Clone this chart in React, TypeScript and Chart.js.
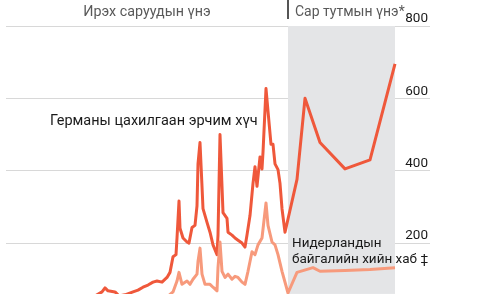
import React, { useEffect, useRef } from "react";
import { Chart, registerables } from "chart.js";

Chart.register(...registerables);

// Horizontal position of each observation (time index along the chart)
const germanyX = [86, 96, 99, 102, 109, 113, 119, 127, 132, 137, 142, 147, 151, 156, 161, 164, 167, 170, 171, 173, 174, 177, 181, 183, 186, 189, 191, 192, 194, 196, 197, 201, 204, 207, 211, 212, 214, 216, 217, 221, 222, 226, 229, 232, 236, 239, 241, 244, 247, 249, 251, 254, 256, 257, 260, 262, 265, 267, 269, 272, 274, 276, 279, 291, 299, 314, 339, 364, 389];
// German power price, €/MWh
const germanyPrice = [49, 65, 76, 68, 65, 54, 57, 65, 70, 78, 84, 92, 95, 92, 105, 119, 162, 168, 214, 316, 241, 214, 203, 200, 243, 249, 303, 419, 478, 357, 295, 257, 230, 195, 168, 222, 500, 357, 284, 268, 230, 222, 214, 208, 200, 189, 222, 276, 365, 411, 357, 438, 405, 451, 627, 565, 473, 473, 419, 403, 365, 295, 230, 376, 600, 478, 405, 430, 695];

const dutchX = [159, 167, 171, 173, 176, 181, 184, 187, 191, 192, 194, 196, 199, 204, 207, 211, 212, 214, 216, 219, 222, 226, 229, 232, 236, 239, 242, 246, 249, 252, 256, 260, 262, 266, 269, 272, 276, 282, 291, 307, 314, 339, 364, 389];
// Dutch TTF gas hub price
const dutchPrice = [46, 65, 95, 119, 86, 95, 86, 100, 114, 149, 186, 114, 86, 86, 78, 68, 132, 203, 122, 105, 114, 100, 108, 105, 92, 86, 122, 176, 168, 195, 214, 311, 249, 203, 195, 168, 122, 62, 119, 132, 122, 124, 127, 132];

const yTickValues = [200, 400, 600, 800];
const xRange = [0, 424];
const yRange = [59.5, 800];
const monthlyBand = [282, 389];

const headerLeft = "Ирэх саруудын үнэ";
const headerRight = "Сар тутмын үнэ*";
const germanyLabel = "Германы цахилгаан эрчим хүч";
const dutchLabel1 = "Нидерландын";
const dutchLabel2 = "байгалийн хийн хаб ‡";

const FONT = "Roboto, 'Noto Sans', sans-serif";

const bandPlugin = {
  id: "monthlyBand",
  beforeDatasetsDraw(chart: any) {
    const { ctx, chartArea, scales } = chart;
    const x0 = scales.x.getPixelForValue(monthlyBand[0]);
    const x1 = scales.x.getPixelForValue(monthlyBand[1]);
    ctx.save();
    ctx.fillStyle = "#e4e5e7";
    ctx.fillRect(x0, chartArea.top, x1 - x0, chartArea.bottom - chartArea.top);
    ctx.restore();
  },
};

export default function App() {
  const canvasRef = useRef<HTMLCanvasElement | null>(null);

  useEffect(() => {
    if (!canvasRef.current) return;
    const chart = new Chart(canvasRef.current, {
      type: "line",
      data: {
        datasets: [
          {
            label: "Netherlands",
            data: dutchX.map((x, i) => ({ x, y: dutchPrice[i] })),
            borderColor: "#f79a7c",
            borderWidth: 3,
            pointRadius: 0,
            tension: 0,
            borderJoinStyle: "round",
          },
          {
            label: "Germany",
            data: germanyX.map((x, i) => ({ x, y: germanyPrice[i] })),
            borderColor: "#ef583b",
            borderWidth: 3,
            pointRadius: 0,
            tension: 0,
            borderJoinStyle: "round",
          },
        ],
      },
      options: {
        animation: false,
        responsive: false,
        devicePixelRatio: 1,
        layout: { padding: { left: 6, right: 60, top: 26, bottom: 0 } },
        plugins: { legend: { display: false }, tooltip: { enabled: false } },
        scales: {
          x: { type: "linear", min: xRange[0], max: xRange[1], display: false },
          y: {
            type: "linear",
            position: "right",
            min: yRange[0],
            max: yRange[1],
            afterBuildTicks: (scale: any) => {
              scale.ticks = yTickValues.map((v) => ({ value: v }));
            },
            grid: { color: "#d8d8d8", lineWidth: 1, drawTicks: false },
            border: { display: false },
            ticks: {
              mirror: true,
              padding: -2,
              labelOffset: -7,
              color: "#1a1a1a",
              font: { family: FONT, size: 13.5 },
              callback: (v: any) => String(v),
            },
          },
        },
      },
      plugins: [bandPlugin],
    });
    return () => chart.destroy();
  }, []);

  const txt: React.CSSProperties = { position: "absolute", whiteSpace: "nowrap", fontFamily: FONT, lineHeight: "16px" };

  return (
    <div style={{ position: "absolute", left: 0, top: 0, width: 490, height: 300, background: "#fff", overflow: "hidden" }}>
      <canvas ref={canvasRef} width={490} height={300} style={{ display: "block" }} />
      <div style={{ ...txt, left: 6, width: 282, top: 3, textAlign: "center", color: "#595959", fontSize: 14.3 }}>{headerLeft}</div>
      <div style={{ position: "absolute", left: 287, top: 0, width: 1.5, height: 19, background: "#555" }} />
      <div style={{ ...txt, left: 295, top: 3, color: "#595959", fontSize: 14 }}>{headerRight}</div>
      <div style={{ ...txt, left: 50, top: 113, color: "#1a1a1a", fontSize: 14.5 }}>{germanyLabel}</div>
      <div style={{ ...txt, left: 292, top: 234, color: "#1a1a1a", fontSize: 13.5 }}>
        {dutchLabel1}
        <br />
        {dutchLabel2}
      </div>
    </div>
  );
}
